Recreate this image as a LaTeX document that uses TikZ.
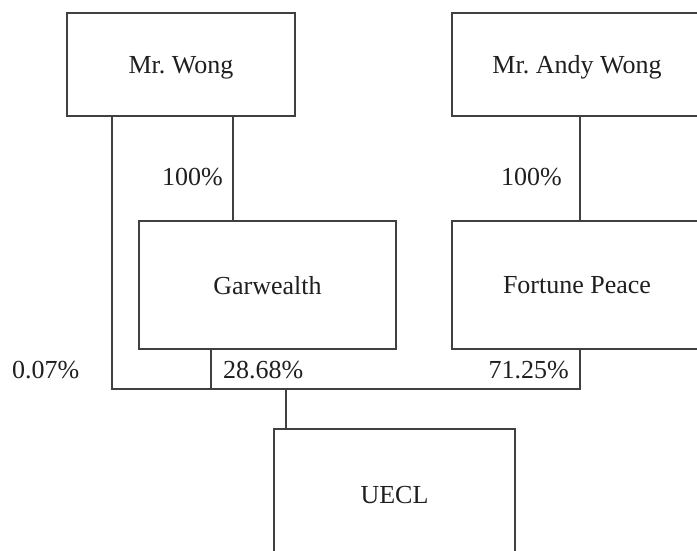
\documentclass[tikz,border=0pt]{standalone}
\usepackage{fontspec}
\setmainfont{Liberation Serif}
\begin{document}
\begin{tikzpicture}[x=1pt,y=-1pt,
  every node/.style={text=black!88},
  box/.style={draw=black!75, line width=1.1pt, inner sep=0pt, text depth=0pt, font=\fontsize{26}{31}\selectfont},
  lbl/.style={inner sep=0pt, font=\fontsize{26}{31}\selectfont},
  conn/.style={draw=black!75, line width=1.1pt}]
\useasboundingbox (0,0) rectangle (697,551);
\begin{scope}
\clip (0,0) rectangle (697,551);
\node[box, minimum width=228pt, minimum height=103pt] (wong) at (181,64.5) {Mr.\ Wong};
\node[box, minimum width=250pt, minimum height=103pt] (andy) at (577,64.5) {Mr.\ Andy Wong};
\node[box, minimum width=257pt, minimum height=128pt] (garwealth) at (267.5,285) {Garwealth};
\node[box, minimum width=250pt, minimum height=128pt] (fortune) at (577,285) {Fortune Peace};
\node[box, minimum width=241pt, minimum height=131pt] (uecl) at (394.5,494.5) {UECL};

\coordinate (jl) at (112,389);
\coordinate (jr) at (580,389);
\coordinate (w2) at (233,0);
\coordinate (g2) at (211,0);
\coordinate (u2) at (286,0);

\draw[conn] (wong.south -| jl) -- (jl) -- (jr) -- (fortune.south -| jr);
\draw[conn] (wong.south -| w2) -- (garwealth.north -| w2);
\draw[conn] (andy.south -| jr) -- (fortune.north -| jr);
\draw[conn] (garwealth.south -| g2) -- (jl -| g2);
\draw[conn] (jl -| u2) -- (uecl.north -| u2);
\end{scope}

\node[lbl, anchor=base east] (p1) at (223,185) {100\%};
\node[lbl, anchor=base east] (p2) at (562,185) {100\%};
\node[lbl, anchor=base west] (p3) at (12,378) {0.07\%};
\node[lbl, anchor=base west] (p4) at (223,378) {28.68\%};
\node[lbl, anchor=base east] (p5) at (569,378) {71.25\%};
\end{tikzpicture}
\end{document}
